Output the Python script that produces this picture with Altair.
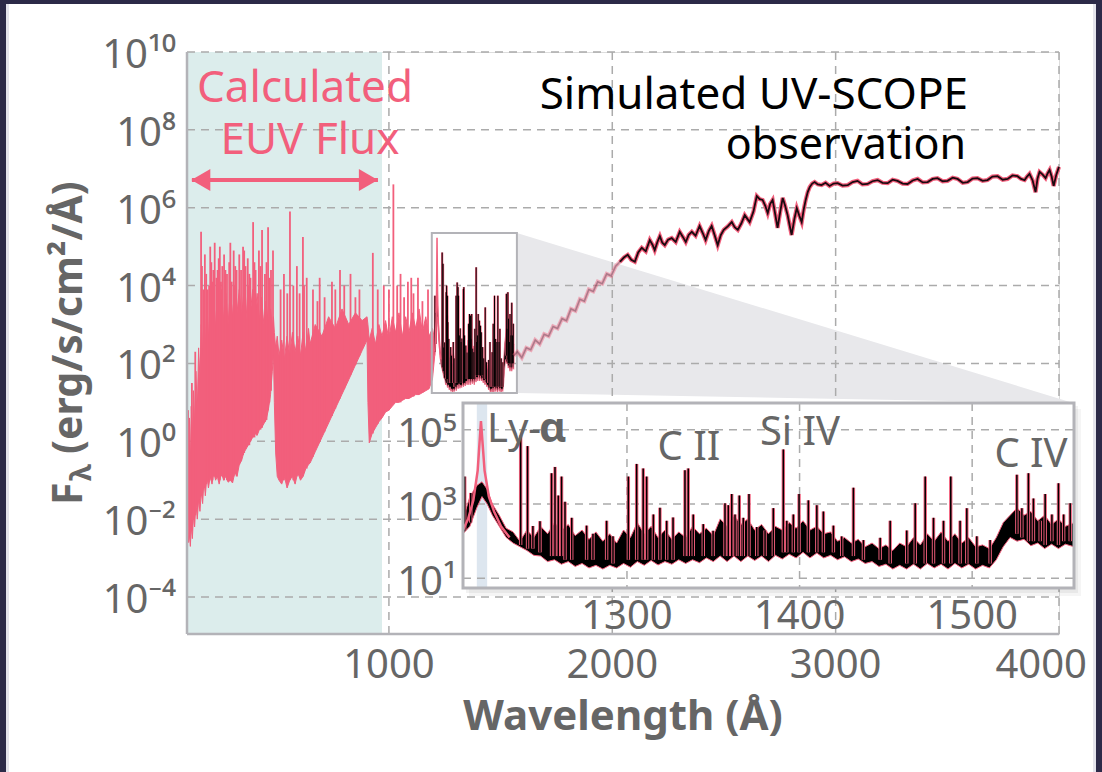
import altair as alt
import pandas as pd

# ---------------- data (log10 of flux) ----------------
# calculated EUV spectrum: lower envelope (floor) and top of the dense body
EUV_WL = [96, 99, 103, 107, 111, 115, 120, 125, 130, 136,
          142, 148, 154, 160, 166, 172, 178, 185, 192, 200,
          208, 216, 224, 232, 240, 250, 260, 270, 280, 290,
          300, 310, 320, 330, 340, 350, 360, 370, 380, 390,
          400, 410, 420, 430, 440, 450, 460, 470, 478, 483,
          487, 493, 500, 508, 520, 532, 544, 556, 568, 580,
          592, 604, 616, 628, 640, 647, 670, 700, 730, 760,
          790, 820, 850, 880, 902, 906, 912, 925, 940, 955,
          969, 985, 1000, 1015, 1030, 1045, 1060, 1075, 1090, 1105,
          1120, 1135, 1150, 1165, 1180, 1195, 1205]
EUV_FLOOR = [1.0, -1.5, -2.6, -2.4, -2.7, -2.2, -2.5, -1.9, -2.2, -1.6,
             -2.0, -1.5, -1.8, -1.3, -1.6, -1.0, -1.4, -0.9, -1.2, -0.9,
             -1.1, -0.8, -1.0, -0.9, -1.1, -0.8, -1.0, -0.9, -1.05, -1.0,
             -1.07, -0.8, -0.9, -0.6, -0.5, -0.3, -0.2, -0.1, 0.0, 0.1,
             0.2, 0.15, 0.3, 0.35, 0.45, 0.55, 0.8, 1.2, 1.8, 2.3,
             1.0, -0.3, -0.9, -1.0, -1.1, -0.9, -1.2, -1.0, -0.9, -1.1,
             -0.8, -1.0, -0.9, -0.7, -0.6, -0.56, -0.27, 0.10, 0.47, 0.84,
             1.21, 1.58, 1.96, 2.33, 2.6, 1.0, -0.04, 0.2, 0.35, 0.5,
             0.6, 0.75, 0.8, 0.9, 1.0, 1.0, 1.05, 1.1, 1.1, 1.15,
             1.2, 1.2, 1.25, 1.3, 1.35, 1.6, 2.2]
EUV_TOP = [1.6, 0.5, -0.3, 0.6, -0.6, 0.9, 0.0, 1.3, 0.4, 1.8,
           0.8, 2.4, 1.6, 3.0, 2.2, 3.2, 2.4, 3.4, 2.6, 3.6,
           2.8, 3.7, 2.9, 3.8, 3.0, 3.9, 3.1, 3.8, 3.0, 3.9,
           3.2, 4.0, 3.3, 3.9, 3.2, 3.8, 3.1, 4.0, 3.3, 3.9,
           3.2, 3.8, 3.1, 3.7, 3.0, 3.6, 3.0, 3.4, 2.9, 3.2,
           2.8, 2.4, 2.7, 2.2, 2.6, 2.1, 2.7, 2.2, 2.8, 2.3,
           2.7, 2.2, 2.8, 2.3, 2.9, 2.5, 3.0, 2.7, 3.2, 2.9,
           3.4, 3.0, 3.3, 3.1, 3.2, 3.0, 2.6, 2.9, 2.5, 3.0,
           2.7, 3.1, 2.6, 3.2, 2.8, 3.3, 2.7, 3.2, 2.8, 3.3,
           2.9, 3.4, 2.8, 3.2, 2.7, 2.9, 2.6]
# EUV emission spikes: wavelength, peak, base
EUV_SPIKE_WL = [101, 118, 133, 159, 170, 182, 195, 205, 214, 228,
                238, 248, 262, 275, 285, 296, 305, 318, 330, 347,
                358, 368, 380, 392, 403, 418, 432, 445, 459, 472,
                481, 515, 530, 545, 557, 572, 588, 600, 615, 632,
                660, 690, 712, 745, 781, 800, 828, 850, 868, 928,
                950, 977, 1020, 1037, 1052, 1068, 1085, 1110, 1130, 1150,
                1175, 163, 176, 188, 200, 210, 220, 233, 243, 254,
                268, 290, 312, 338, 352, 375, 398, 425, 452, 465,
                620, 680, 760, 1000, 1100]
EUV_SPIKE_PEAK = [0.8, 1.5, 2.3, 5.38, 3.9, 4.3, 4.0, 4.6, 4.4, 4.2,
                  4.7, 4.1, 4.8, 4.3, 4.6, 4.1, 4.9, 4.4, 4.8, 5.0,
                  4.5, 4.7, 4.2, 5.63, 4.4, 4.9, 5.43, 4.3, 5.5, 4.4,
                  4.9, 3.9, 4.3, 3.8, 5.9, 4.0, 4.5, 3.8, 5.25, 4.2,
                  3.9, 4.2, 3.7, 4.1, 4.4, 4.0, 4.3, 3.7, 3.9, 4.84,
                  3.9, 4.0, 6.6, 4.0, 4.3, 3.7, 4.1, 3.8, 4.2, 3.6,
                  3.9, 4.5, 4.8, 3.9, 5.0, 4.1, 5.1, 4.4, 5.0, 4.5,
                  4.4, 5.1, 4.5, 4.4, 4.9, 4.3, 4.6, 4.5, 4.6, 4.2,
                  4.0, 3.6, 3.9, 3.9, 4.2]
EUV_SPIKE_BASE = [-2.0, -2.3, -1.9, -1.4, -1.2, -1.1, -1.0, -1.0, -0.9, -0.9,
                  -1.0, -0.9, -1.0, -1.0, -1.0, -1.0, -0.9, -0.9, -0.6, -0.35,
                  -0.2, -0.1, 0.0, 0.1, 0.2, 0.3, 0.35, 0.5, 0.8, 1.3,
                  2.2, -1.0, -1.0, -1.0, -1.0, -1.0, -0.9, -0.9, -0.9, -0.7,
                  -0.4, 0.0, 0.25, 0.65, 1.1, 1.35, 1.7, 1.96, 2.2, 0.2,
                  0.45, 0.7, 1.0, 1.0, 1.0, 1.1, 1.1, 1.15, 1.2, 1.25,
                  1.35, -1.3, -1.2, -1.0, -0.9, -1.0, -0.9, -0.9, -1.0, -0.9,
                  -0.9, -1.0, -0.8, -0.5, -0.3, -0.1, 0.1, 0.3, 0.55, 1.0,
                  -0.8, -0.1, 0.84, 0.8, 1.15]

# simulated UV-SCOPE FUV segment (inset): dense body
INS_WL = [1205, 1209, 1213, 1216, 1219, 1222, 1226, 1230, 1234, 1238,
          1242, 1246, 1250, 1254, 1258, 1262, 1266, 1270, 1274, 1278,
          1282, 1286, 1290, 1294, 1298, 1302, 1306, 1310, 1314, 1318,
          1322, 1326, 1330, 1334, 1338, 1342, 1346, 1350, 1354, 1358,
          1362, 1366, 1370, 1374, 1378, 1382, 1386, 1390, 1394, 1398,
          1402, 1406, 1410, 1414, 1418, 1422, 1426, 1430, 1434, 1438,
          1442, 1446, 1450, 1454, 1458, 1462, 1466, 1470, 1474, 1478,
          1482, 1486, 1490, 1494, 1498, 1502, 1506, 1510, 1514, 1518,
          1522, 1526, 1530, 1534, 1538, 1542, 1546, 1550, 1554, 1559]
INS_FLOOR = [2.2, 2.4, 2.9, 3.2, 3.0, 2.7, 2.4, 2.1, 1.95, 1.85,
             1.75, 1.62, 1.6, 1.45, 1.5, 1.38, 1.45, 1.32, 1.4, 1.28,
             1.35, 1.25, 1.35, 1.28, 1.4, 1.3, 1.45, 1.35, 1.48, 1.36,
             1.45, 1.38, 1.5, 1.4, 1.5, 1.42, 1.55, 1.45, 1.6, 1.45,
             1.6, 1.45, 1.6, 1.48, 1.6, 1.45, 1.62, 1.52, 1.65, 1.55,
             1.7, 1.55, 1.68, 1.55, 1.62, 1.5, 1.58, 1.45, 1.52, 1.4,
             1.45, 1.32, 1.38, 1.25, 1.35, 1.25, 1.38, 1.25, 1.4, 1.28,
             1.38, 1.25, 1.4, 1.28, 1.38, 1.25, 1.35, 1.28, 1.5, 1.85,
             2.1, 2.0, 2.05, 1.88, 1.95, 1.8, 1.92, 1.8, 1.92, 1.85]
INS_TOP = [2.6, 3.2, 3.5, 3.6, 3.4, 3.0, 2.7, 2.35, 2.25, 2.0,
           2.3, 2.1, 2.4, 2.2, 2.5, 2.3, 2.45, 2.15, 2.3, 2.05,
           2.25, 2.0, 2.2, 1.95, 2.3, 2.1, 2.5, 2.2, 2.4, 2.1,
           2.3, 2.05, 2.25, 2.1, 2.4, 2.2, 2.35, 2.15, 2.6, 2.4,
           2.7, 2.45, 2.6, 2.3, 2.45, 2.2, 2.4, 2.3, 2.5, 2.35,
           2.55, 2.3, 2.4, 2.2, 2.25, 2.0, 2.1, 1.95, 2.05, 1.85,
           1.95, 1.8, 1.9, 1.75, 1.95, 1.85, 2.1, 1.9, 2.2, 2.0,
           2.25, 2.0, 2.2, 1.95, 2.1, 1.85, 1.9, 1.8, 2.1, 2.5,
           2.7, 2.9, 2.7, 2.8, 2.55, 2.7, 2.45, 2.6, 2.4, 2.5]
# FUV emission lines: wavelength, peak, base
INS_SPIKE_WL = [1206, 1209.5, 1238.4, 1242.4, 1245.5, 1249.6, 1256.3, 1258.3, 1260.2, 1262.1,
                1264.1, 1268, 1276.6, 1280.3, 1288.2, 1291.9, 1300.8, 1305.6, 1309.4, 1311.4,
                1315.3, 1319.1, 1323, 1326.7, 1333.6, 1335.5, 1338.4, 1344.2, 1349.9, 1356.8,
                1358.7, 1360.7, 1362.6, 1365.1, 1367.4, 1370.7, 1375.2, 1380, 1384.8, 1390.6,
                1392.6, 1396.4, 1399.7, 1405.1, 1410, 1413.8, 1419.6, 1424.4, 1431.2, 1437,
                1446.7, 1452.5, 1462.1, 1467, 1472.8, 1477.6, 1483.4, 1487.6, 1493, 1496.9,
                1502.7, 1510.4, 1525.9, 1528.8, 1532.6, 1535.5, 1539.4, 1542.3, 1546.2, 1550,
                1553, 1556.8]
INS_SPIKE_PEAK = [3.74, 3.3, 4.85, 4.56, 2.41, 2.54, 3.83, 4.0, 3.23, 3.74,
                  3.06, 2.63, 2.42, 2.2, 2.55, 2.13, 3.74, 4.08, 3.96, 3.74,
                  2.72, 2.9, 2.55, 2.64, 3.91, 3.96, 2.72, 2.46, 2.28, 3.02,
                  2.97, 3.27, 2.72, 3.23, 2.63, 3.27, 2.38, 2.29, 2.89, 4.47,
                  2.55, 2.72, 3.27, 3.1, 2.97, 2.8, 2.42, 2.13, 3.44, 2.03,
                  2.09, 2.55, 2.29, 3.02, 3.74, 2.63, 2.55, 3.74, 2.55, 2.89,
                  2.13, 2.03, 3.79, 2.89, 3.83, 3.15, 2.55, 3.27, 2.72, 3.56,
                  2.72, 3.02]
INS_SPIKE_BASE = [2.3, 2.5, 1.9, 1.8, 1.8, 1.7, 1.6, 1.6, 1.6, 1.6,
                  1.5, 1.5, 1.5, 1.5, 1.5, 1.4, 1.5, 1.5, 1.5, 1.5,
                  1.5, 1.5, 1.5, 1.5, 1.6, 1.6, 1.6, 1.6, 1.6, 1.6,
                  1.6, 1.6, 1.6, 1.6, 1.6, 1.6, 1.6, 1.6, 1.6, 1.7,
                  1.7, 1.7, 1.7, 1.7, 1.7, 1.7, 1.7, 1.6, 1.6, 1.5,
                  1.5, 1.4, 1.4, 1.4, 1.4, 1.4, 1.4, 1.4, 1.4, 1.4,
                  1.4, 1.4, 2.2, 2.1, 2.0, 2.0, 2.0, 1.9, 2.0, 1.9,
                  2.0, 2.0]
# Lyman-alpha profile
LYA_WL = [1205, 1208, 1211, 1213.5, 1215.4, 1217.5, 1220, 1223, 1227, 1232]
LYA_LOGF = [2.3, 2.6, 3.1, 3.9, 5.23, 3.9, 3.2, 2.8, 2.4, 2.1]
LYA_BAND = [1213, 1219]

# continuation of the simulated observation
FADED_WL = [1559, 1575, 1595, 1615, 1635, 1655, 1675, 1695, 1715, 1735,
            1755, 1775, 1795, 1815, 1835, 1855, 1875, 1895, 1915, 1935,
            1955, 1975, 1995, 2015, 2034]
FADED_LOGF = [2.2, 2.3, 2.15, 2.4, 2.35, 2.6, 2.5, 2.75, 2.7, 2.95,
              2.9, 3.15, 3.1, 3.4, 3.35, 3.65, 3.6, 3.9, 3.85, 4.1,
              4.05, 4.3, 4.25, 4.5, 4.61]
VIS_WL = [2034, 2052, 2069, 2085, 2101, 2116, 2132, 2150, 2168, 2180,
          2190, 2202, 2213, 2224, 2235, 2250, 2266, 2284, 2302, 2316,
          2329, 2342, 2356, 2373, 2391, 2405, 2418, 2432, 2445, 2458,
          2472, 2486, 2499, 2517, 2535, 2548, 2562, 2578, 2593, 2604,
          2615, 2632, 2647, 2660, 2673, 2685, 2696, 2707, 2718, 2729,
          2740, 2752, 2763, 2774, 2785, 2794, 2803, 2815, 2826, 2837,
          2848, 2857, 2866, 2875, 2884, 2895, 2906, 2920, 2937, 2955,
          2973, 2991, 3009, 3031, 3054, 3076, 3098, 3120, 3143, 3165,
          3188, 3210, 3233, 3255, 3277, 3300, 3322, 3345, 3367, 3390,
          3412, 3434, 3456, 3479, 3501, 3524, 3546, 3569, 3591, 3613,
          3635, 3658, 3680, 3702, 3725, 3748, 3770, 3792, 3814, 3830,
          3846, 3857, 3868, 3882, 3895, 3904, 3913, 3927, 3940, 3949,
          3958, 3967, 3976, 3988, 4000]
VIS_LOGF = [4.61, 4.72, 4.79, 4.66, 4.61, 4.85, 4.97, 4.88, 5.17, 5.05,
            4.91, 5.12, 5.27, 5.10, 5.04, 5.18, 5.22, 5.12, 5.38, 5.25,
            5.12, 5.30, 5.38, 5.28, 5.53, 5.35, 5.17, 5.40, 5.53, 5.30,
            5.04, 5.30, 5.43, 5.52, 5.63, 5.50, 5.43, 5.60, 5.81, 5.72,
            5.63, 5.90, 6.30, 6.22, 6.20, 6.05, 5.86, 6.10, 6.20, 5.85,
            5.48, 5.90, 6.25, 6.05, 5.81, 5.55, 5.30, 5.70, 5.99, 5.80,
            5.63, 5.95, 6.20, 6.40, 6.53, 6.62, 6.66, 6.60, 6.58, 6.64,
            6.56, 6.62, 6.63, 6.57, 6.58, 6.66, 6.69, 6.60, 6.61, 6.68,
            6.71, 6.64, 6.63, 6.72, 6.69, 6.62, 6.61, 6.70, 6.74, 6.65,
            6.66, 6.74, 6.76, 6.68, 6.69, 6.77, 6.74, 6.64, 6.66, 6.75,
            6.76, 6.69, 6.71, 6.80, 6.81, 6.72, 6.74, 6.83, 6.81, 6.74,
            6.71, 6.80, 6.87, 6.70, 6.40, 6.75, 6.92, 6.85, 6.76, 6.88,
            6.97, 6.80, 6.56, 6.85, 7.05]

# axes, regions and annotations
X_DOMAIN = [96, 4000]
Y_DOMAIN_EXP = [-4.95, 10]
MAIN_X_TICKS = [1000, 2000, 3000, 4000]
MAIN_Y_EXPS = [-4, -2, 0, 2, 4, 6, 8, 10]
INSET_X_DOMAIN = [1205, 1559]
INSET_Y_DOMAIN_EXP = [0.74, 5.72]
INSET_X_TICKS = [1300, 1400, 1500]
INSET_Y_EXPS = [1, 3, 5]
SHADE_WL = [96, 969]
BOX_WL = [1192, 1573]
BOX_LOGF = [1.24, 5.35]
CONE_WL = [1573, 4067]
CONE_TOP = [5.35, 0.98]
CONE_BOTTOM = [1.24, 0.98]
ARROW_WL = [118, 951]
ARROW_LOGF = [6.71, 6.71]
ARROW_HEAD_WL = [158, 908]
ARROW_HEAD_SHAPE = ["triangle-left", "triangle-right"]

# ---------------- style ----------------
PINK = "#f25f7c"
TEAL = "#dcedec"
TXT = "#666666"
GRID = "#ababab"
FRAME = "#b3b3b8"
DARK = "#2c2a48"
FONT = "Noto Sans"
W, H = 872, 582
IX0, IX1, IY0, IY1 = 276, 887, 351, 536   # inset plot box (pixels inside main view)

SUP = str.maketrans("0123456789-", "⁰¹²³⁴⁵⁶⁷⁸⁹⁻")


def pow_label(e):
    return "10" + str(e).translate(SUP)


def lin(v):
    return [10 ** x for x in v]


one = pd.DataFrame({"k": [0]})


def deco_rect(x1, x2, y1, y2, color, opacity=1.0):
    return alt.Chart(one).mark_rect(color=color, opacity=opacity).encode(
        x=alt.value(x1), x2=alt.value(x2), y=alt.value(y1), y2=alt.value(y2))


def deco_rule(x1, x2, y1, y2, color, width):
    return alt.Chart(one).mark_rule(color=color, strokeWidth=width).encode(
        x=alt.value(x1), x2=alt.value(x2), y=alt.value(y1), y2=alt.value(y2))


def label(text, x, y, size, color, align="center", weight="normal", angle=None):
    kw = dict(text=text, font=FONT, fontSize=size, color=color, align=align,
              baseline="alphabetic", fontWeight=weight)
    if angle is not None:
        kw["angle"] = angle
    return alt.Chart(one).mark_text(**kw).encode(x=alt.value(x), y=alt.value(y))


xm = alt.Scale(domain=X_DOMAIN, nice=False, zero=False)
ym = alt.Scale(type="log", domain=[10 ** Y_DOMAIN_EXP[0], 10 ** Y_DOMAIN_EXP[1]], nice=False)
xi = alt.Scale(domain=INSET_X_DOMAIN, range=[IX0, IX1], nice=False, zero=False)
yi = alt.Scale(type="log", domain=[10 ** INSET_Y_DOMAIN_EXP[0], 10 ** INSET_Y_DOMAIN_EXP[1]],
               range=[IY1, IY0], nice=False)


def X(field, scale):
    return alt.X(field, type="quantitative", scale=scale, axis=None)


def Y(field, scale):
    return alt.Y(field, type="quantitative", scale=scale, axis=None)


euv = pd.DataFrame({"wl": EUV_WL, "floor": lin(EUV_FLOOR), "top": lin(EUV_TOP)})
euv_sp = pd.DataFrame({"wl": EUV_SPIKE_WL, "peak": lin(EUV_SPIKE_PEAK), "base": lin(EUV_SPIKE_BASE)})
ins = pd.DataFrame({"wl": INS_WL, "floor": lin(INS_FLOOR), "top": lin(INS_TOP)})
ins_sp = pd.DataFrame({"wl": INS_SPIKE_WL, "peak": lin(INS_SPIKE_PEAK), "base": lin(INS_SPIKE_BASE)})
lya = pd.DataFrame({"wl": LYA_WL, "f": lin(LYA_LOGF)})
faded = pd.DataFrame({"wl": FADED_WL, "f": lin(FADED_LOGF)})
vis = pd.DataFrame({"wl": VIS_WL, "f": lin(VIS_LOGF)})

main_xlab = pd.DataFrame({"v": MAIN_X_TICKS, "t": [str(v) for v in MAIN_X_TICKS]})
main_ylab = pd.DataFrame({"v": lin(MAIN_Y_EXPS), "t": [pow_label(e) for e in MAIN_Y_EXPS]})
ins_xlab = pd.DataFrame({"v": INSET_X_TICKS, "t": [str(v) for v in INSET_X_TICKS]})
ins_ylab = pd.DataFrame({"v": lin(INSET_Y_EXPS), "t": [pow_label(e) for e in INSET_Y_EXPS]})

tick_text = dict(font=FONT, fontSize=40, color=TXT)

# ---------------- main panel ----------------
main_layers = [
    deco_rect(-187, 915, -52, -48, DARK),
    deco_rect(-187, -181, -52, 720, DARK),
    deco_rect(-181, -178, -48, 720, "#e4e4ec"),
    deco_rect(909, 915, -52, 720, DARK),
    deco_rect(906, 909, -48, 720, "#e4e4ec"),
    alt.Chart(pd.DataFrame({"lo": [SHADE_WL[0]], "hi": [SHADE_WL[1]]})).mark_rect(color=TEAL).encode(
        x=X("lo", xm), x2="hi", y=alt.value(0), y2=alt.value(H)),
    alt.Chart(pd.DataFrame({"wl": CONE_WL, "top": lin(CONE_TOP), "bot": lin(CONE_BOTTOM)}))
    .mark_area(color="#e8e8eb").encode(x=X("wl", xm), y=Y("top", ym), y2="bot"),
    alt.Chart(pd.DataFrame({"v": lin(MAIN_Y_EXPS)})).mark_rule(
        color=GRID, strokeDash=[8, 6], strokeWidth=1.5).encode(
        y=Y("v", ym), x=alt.value(0), x2=alt.value(W)),
    alt.Chart(pd.DataFrame({"v": MAIN_X_TICKS})).mark_rule(
        color=GRID, strokeDash=[8, 6], strokeWidth=1.5).encode(
        x=X("v", xm), y=alt.value(0), y2=alt.value(H)),
    alt.Chart(euv).mark_area(fill=PINK, stroke=PINK, strokeWidth=1).encode(
        x=X("wl", xm), y=Y("top", ym), y2="floor"),
    alt.Chart(euv_sp).mark_rule(color=PINK, strokeWidth=1.8).encode(
        x=X("wl", xm), y=Y("peak", ym), y2="base"),
    # FUV segment at main scale
    alt.Chart(ins).mark_area(fill="black", stroke=PINK, strokeWidth=0.8).encode(
        x=X("wl", xm), y=Y("top", ym), y2="floor"),
    alt.Chart(ins_sp).mark_rule(color=PINK, strokeWidth=2.2).encode(
        x=X("wl", xm), y=Y("peak", ym), y2="base"),
    alt.Chart(ins_sp).mark_rule(color="black", strokeWidth=1).encode(
        x=X("wl", xm), y=Y("peak", ym), y2="base"),
    alt.Chart(lya).mark_line(color=PINK, strokeWidth=1.5).encode(x=X("wl", xm), y=Y("f", ym)),
    alt.Chart(pd.DataFrame({"lo": [BOX_WL[0]], "hi": [BOX_WL[1]],
                            "b": [10 ** BOX_LOGF[0]], "t": [10 ** BOX_LOGF[1]]}))
    .mark_rect(fillOpacity=0, stroke=FRAME, strokeWidth=2).encode(
        x=X("lo", xm), x2="hi", y=Y("t", ym), y2="b"),
    alt.Chart(faded).mark_line(color=PINK, strokeWidth=4, opacity=0.45).encode(
        x=X("wl", xm), y=Y("f", ym)),
    alt.Chart(faded).mark_line(color="#3a2030", strokeWidth=1.6, opacity=0.35).encode(
        x=X("wl", xm), y=Y("f", ym)),
    alt.Chart(vis).mark_line(color=PINK, strokeWidth=4.2).encode(x=X("wl", xm), y=Y("f", ym)),
    alt.Chart(vis).mark_line(color="#1a0a10", strokeWidth=1.8).encode(x=X("wl", xm), y=Y("f", ym)),
    alt.Chart(pd.DataFrame({"wl": ARROW_WL, "f": lin(ARROW_LOGF)})).mark_line(
        color=PINK, strokeWidth=4).encode(x=X("wl", xm), y=Y("f", ym)),
    alt.Chart(pd.DataFrame({"wl": ARROW_HEAD_WL, "f": lin(ARROW_LOGF), "s": ARROW_HEAD_SHAPE}))
    .mark_point(filled=True, color=PINK, opacity=1, size=480).encode(
        x=X("wl", xm), y=Y("f", ym), shape=alt.Shape("s:N", scale=None)),
    # axis lines
    deco_rule(0, 0, 0, H, FRAME, 2.5),
    deco_rule(0, W, H, H, FRAME, 2.5),
    # tick labels
    alt.Chart(main_xlab.iloc[:-1]).mark_text(baseline="alphabetic", align="center", **tick_text).encode(
        x=X("v", xm), y=alt.value(H + 44), text="t:N"),
    alt.Chart(main_xlab.iloc[-1:]).mark_text(baseline="alphabetic", align="right", dx=28, **tick_text).encode(
        x=X("v", xm), y=alt.value(H + 44), text="t:N"),
    alt.Chart(main_ylab).mark_text(baseline="middle", align="right", dy=4, **tick_text).encode(
        y=Y("v", ym), x=alt.value(-11), text="t:N"),
    label("Wavelength (Å)", W / 2, H + 96, 42, TXT, weight="bold"),
    label("F", -105, 453, 41, TXT, align="left", weight="bold", angle=270),
    label("λ", -96, 429, 29, TXT, align="left", weight="bold", angle=270),
    label("(erg/s/cm²/Å)", -105, 402, 41, TXT, align="left", weight="bold", angle=270),
    # annotations
    label("Calculated", 118, 50, 44, PINK),
    label("EUV Flux", 123, 102, 44, PINK),
    label("Simulated UV-SCOPE", 781, 57, 44, "black", align="right"),
    label("observation", 779, 107, 43, "black", align="right"),
]

# ---------------- inset panel ----------------
inset_layers = [
    deco_rect(IX0 + 6, IX1 + 7, IY0 + 6, IY1 + 8, "#000000", 0.04),
    deco_rect(IX0 + 3, IX1 + 4, IY0 + 3, IY1 + 5, "#000000", 0.05),
    deco_rect(IX0, IX1, IY0, IY1, "white"),
    alt.Chart(pd.DataFrame({"lo": [LYA_BAND[0]], "hi": [LYA_BAND[1]]})).mark_rect(color="#dde6ef").encode(
        x=X("lo", xi), x2="hi", y=alt.value(IY0), y2=alt.value(IY1)),
    alt.Chart(pd.DataFrame({"v": INSET_X_TICKS})).mark_rule(
        color=GRID, strokeDash=[8, 6], strokeWidth=1.5).encode(
        x=X("v", xi), y=alt.value(IY0), y2=alt.value(IY1)),
    alt.Chart(pd.DataFrame({"v": lin(INSET_Y_EXPS)})).mark_rule(
        color=GRID, strokeDash=[8, 6], strokeWidth=1.5).encode(
        y=Y("v", yi), x=alt.value(IX0), x2=alt.value(IX1)),
    alt.Chart(ins).mark_area(fill="black", stroke=PINK, strokeWidth=1).encode(
        x=X("wl", xi), y=Y("top", yi), y2="floor"),
    alt.Chart(ins_sp).mark_rule(color=PINK, strokeWidth=3.4).encode(
        x=X("wl", xi), y=Y("peak", yi), y2="base"),
    alt.Chart(ins_sp).mark_rule(color="black", strokeWidth=1.5).encode(
        x=X("wl", xi), y=Y("peak", yi), y2="base"),
    alt.Chart(lya).mark_line(color=PINK, strokeWidth=2.5).encode(x=X("wl", xi), y=Y("f", yi)),
    alt.Chart(one).mark_rect(fillOpacity=0, stroke=FRAME, strokeWidth=3).encode(
        x=alt.value(IX0), x2=alt.value(IX1), y=alt.value(IY0), y2=alt.value(IY1)),
    alt.Chart(ins_xlab).mark_text(baseline="alphabetic", align="center", **tick_text).encode(
        x=X("v", xi), y=alt.value(IY1 + 41), text="t:N"),
    alt.Chart(ins_ylab).mark_text(baseline="middle", align="right", dy=5, **tick_text).encode(
        y=Y("v", yi), x=alt.value(IX0 - 6), text="t:N"),
    label("Ly-", 300, 390, 40, TXT, align="left"),
    label("α", 352, 390, 42, TXT, align="left", weight="bold"),
    label("C II", 502, 408, 40, TXT),
    label("Si IV", 613, 393, 40, TXT),
    label("C IV", 844, 415, 40, TXT),
]

main = alt.layer(*main_layers)
inset = alt.layer(*inset_layers)

chart = (
    alt.layer(main, inset)
    .resolve_scale(x="independent", y="independent")
    .properties(width=W, height=H,
                padding={"left": 187, "top": 52, "right": 43, "bottom": 138},
                autosize=alt.AutoSizeParams(type="none"), background="white")
    .configure_view(stroke="transparent")
    .configure(font=FONT)
)

chart.save("out.html", embed_options={"renderer": "svg", "actions": False})
